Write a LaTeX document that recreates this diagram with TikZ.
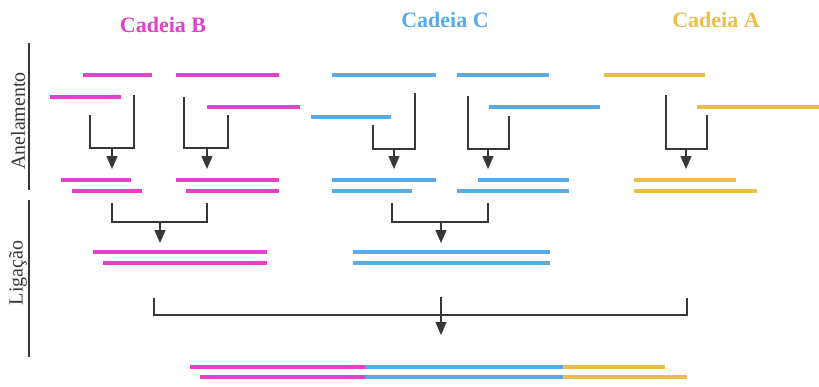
\documentclass[tikz,border=0pt]{standalone}
\usepackage{fontspec}
\setmainfont{Liberation Serif}
\usetikzlibrary{arrows.meta}
\definecolor{cB}{RGB}{228,64,200}
\definecolor{cC}{RGB}{88,170,232}
\definecolor{cA}{RGB}{236,190,72}
\definecolor{ink}{RGB}{55,55,55}
\begin{document}
\begin{tikzpicture}[x=1pt,y=-1pt,
  strand/.style={line width=4pt},
  brk/.style={draw=ink,line width=1.4pt},
  arr/.style={draw=ink,line width=1.4pt,-{Triangle[width=11pt,length=13pt]}},
  title/.style={font=\fontsize{22}{24}\selectfont\bfseries},
  side/.style={font=\fontsize{20}{22}\selectfont,rotate=90,text=ink},
  axis/.style={draw=ink,line width=1.2pt}]
\useasboundingbox (0,0) rectangle (819,386);

% titles
\node[title,text=cB] (tB) at (163,25) {Cadeia B};
\node[title,text=cC] (tC) at (445,20) {Cadeia C};
\node[title,text=cA] (tA) at (716,20) {Cadeia A};

% side axis
\node[side] (sAn) at (18,121) {Anelamento};
\node[side] (sLi) at (18,273) {Ligação};
\draw[axis] (29,43) -- (29,190);
\draw[axis] (29,200) -- (29,357);

% ---------- Cadeia B annealing ----------
\draw[strand,cB] (83,75) -- (152,75);
\draw[strand,cB] (50,97) -- (121,97);
\draw[brk] (90,115) |- (134,148) -- (134,95);
\draw[arr] (112,148) -- (112,169);
\draw[strand,cB] (176,75) -- (279,75);
\draw[strand,cB] (207,107) -- (300,107);
\draw[brk] (184,97) |- (228,148) -- (228,115);
\draw[arr] (207,148) -- (207,169);
\draw[strand,cB] (61,180) -- (131,180);
\draw[strand,cB] (72,191) -- (142,191);
\draw[strand,cB] (176,180) -- (279,180);
\draw[strand,cB] (186,191) -- (279,191);

% ---------- Cadeia C annealing ----------
\draw[strand,cC] (332,75) -- (436,75);
\draw[strand,cC] (311,117) -- (391,117);
\draw[brk] (373,125) |- (415,149) -- (415,93);
\draw[arr] (394,149) -- (394,169);
\draw[strand,cC] (457,75) -- (549,75);
\draw[strand,cC] (489,107) -- (600,107);
\draw[brk] (468,96) |- (509,149) -- (509,116);
\draw[arr] (488,149) -- (488,169);
\draw[strand,cC] (332,180) -- (436,180);
\draw[strand,cC] (332,191) -- (412,191);
\draw[strand,cC] (478,180) -- (569,180);
\draw[strand,cC] (457,191) -- (569,191);

% ---------- Cadeia A annealing ----------
\draw[strand,cA] (604,75) -- (705,75);
\draw[strand,cA] (697,107) -- (819,107);
\draw[brk] (666,95) |- (707,149) -- (707,115);
\draw[arr] (686,149) -- (686,169);
\draw[strand,cA] (634,180) -- (736,180);
\draw[strand,cA] (634,191) -- (757,191);

% ---------- Ligation ----------
\draw[brk] (112,203) |- (207,222) -- (207,203);
\draw[arr] (160,222) -- (160,243);
\draw[strand,cB] (93,252) -- (267,252);
\draw[strand,cB] (103,263) -- (267,263);

\draw[brk] (392,203) |- (488,222) -- (488,203);
\draw[arr] (441,222) -- (441,243);
\draw[strand,cC] (353,252) -- (550,252);
\draw[strand,cC] (353,263) -- (550,263);

% ---------- Final ----------
\draw[brk] (154,298) |- (687,315) -- (687,298);
\draw[arr] (441,297) -- (441,335);
\draw[strand,cB] (190,367) -- (365,367);
\draw[strand,cC] (365,367) -- (563,367);
\draw[strand,cA] (563,367) -- (665,367);
\draw[strand,cB] (200,377) -- (365,377);
\draw[strand,cC] (365,377) -- (563,377);
\draw[strand,cA] (563,377) -- (687,377);
\end{tikzpicture}
\end{document}
